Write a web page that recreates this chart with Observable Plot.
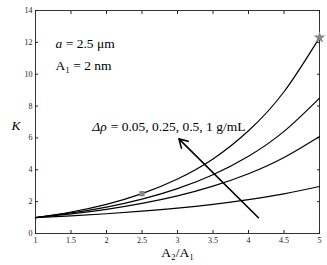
<!DOCTYPE html>
<html><head><meta charset="utf-8">
<script src="https://cdn.jsdelivr.net/npm/d3@7"></script>
<script src="https://cdn.jsdelivr.net/npm/@observablehq/plot@0.6"></script>
<style>body{margin:0;background:#fff}</style>
</head><body><div id="c"></div>
<script>
const ratio = [1, 1.5, 2, 2.5, 3, 3.5, 4, 4.5, 5];
const k005 = [1, 1.11, 1.24, 1.40, 1.59, 1.83, 2.13, 2.49, 2.95];
const k025 = [1, 1.23, 1.52, 1.89, 2.36, 2.97, 3.75, 4.77, 6.09];
const k05  = [1, 1.29, 1.66, 2.16, 2.82, 3.69, 4.85, 6.41, 8.50];
const k1   = [1, 1.35, 1.83, 2.50, 3.42, 4.68, 6.45, 8.90, 12.30];
const seriesNames = ["0.05", "0.25", "0.5", "1"];
const xTicks = [1, 1.5, 2, 2.5, 3, 3.5, 4, 4.5, 5];
const yTicks = [0, 2, 4, 6, 8, 10, 12, 14];
const squarePt = [{x: 2.5, y: 2.5}];
const starPt = [{x: 5, y: 12.3}];
const arrowPt = [{x1: 4.14, y1: 0.99, x2: 3.02, y2: 5.94}];

const all = [k005, k025, k05, k1];
const rows = [];
all.forEach((arr, i) => arr.forEach((v, j) => rows.push({s: seriesNames[i], x: ratio[j], y: v})));

const font = "Liberation Serif";
const fs = 13.5;
const chart = Plot.plot({
  width: 327, height: 265,
  marginLeft: 35, marginRight: 8, marginTop: 10, marginBottom: 32,
  style: {fontFamily: font, fontSize: "8px", background: "#fff", color: "#222"},
  x: {domain: [1, 5]},
  y: {domain: [0, 14]},
  marks: [
    Plot.frame({stroke: "#333", strokeWidth: 1}),
    Plot.axisX({ticks: xTicks, tickSize: -3, text: null, label: null}),
    Plot.axisX({anchor: "top", ticks: xTicks, tickSize: -3, text: null, label: null}),
    Plot.axisX({ticks: xTicks, tickSize: 0, tickPadding: 4, tickFormat: d => String(d), label: null}),
    Plot.axisY({ticks: yTicks, tickSize: -3, text: null, label: null}),
    Plot.axisY({anchor: "right", ticks: yTicks, tickSize: -3, text: null, label: null}),
    Plot.axisY({ticks: yTicks, tickSize: 0, tickPadding: 3, label: null}),
    Plot.line(rows, {x: "x", y: "y", z: "s", curve: "natural", stroke: "#000", strokeWidth: 1.2}),
    Plot.dot(squarePt, {x: "x", y: "y", symbol: "square", r: 3, fill: "#888"}),
    Plot.dot(starPt, {x: "x", y: "y", symbol: "star", r: 3.8, fill: "#888"}),
    Plot.arrow(arrowPt, {x1: "x1", y1: "y1", x2: "x2", y2: "y2", stroke: "#000", strokeWidth: 1.6, headLength: 9}),
    Plot.text(["a"], {x: 1.28, y: 11.93, text: d => d, textAnchor: "start", fontStyle: "italic", fontSize: fs, fill: "#000"}),
    Plot.text([" = 2.5 μm"], {x: 1.28, y: 11.93, dx: 7, text: d => d, textAnchor: "start", fontSize: fs, fill: "#000"}),
    Plot.text(["A₁ = 2 nm"], {x: 1.28, y: 10.55, text: d => d, textAnchor: "start", fontSize: fs, fill: "#000"}),
    Plot.text(["Δρ"], {x: 1.80, y: 6.72, text: d => d, textAnchor: "start", fontStyle: "italic", fontSize: fs, fill: "#000"}),
    Plot.text([" = 0.05, 0.25, 0.5, 1 g/mL"], {x: 1.80, y: 6.72, dx: 15, text: d => d, textAnchor: "start", fontSize: fs, fill: "#000"}),
    Plot.text(["K"], {frameAnchor: "left", dx: -24, dy: 4, text: d => d, fontStyle: "italic", fontSize: fs, fill: "#000"}),
    Plot.text(["A₂/A₁"], {frameAnchor: "bottom", dy: 23, text: d => d, fontSize: fs, fill: "#000"})
  ]
});
document.getElementById("c").appendChild(chart);
</script></body></html>
